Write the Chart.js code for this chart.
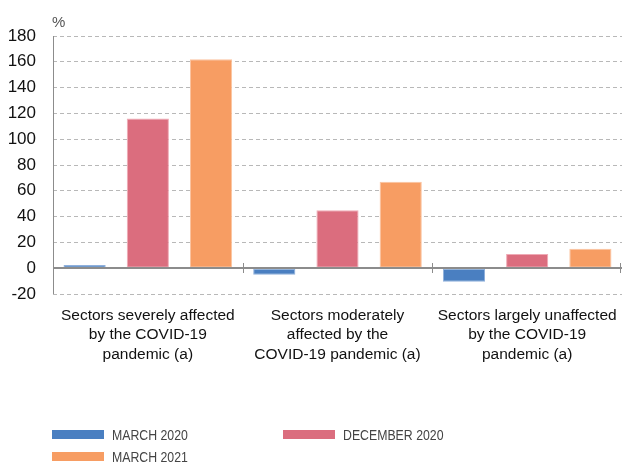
<!DOCTYPE html>
<html>
<head>
<meta charset="utf-8">
<script src="https://cdn.jsdelivr.net/npm/chart.js@4"></script>
<style>
  html, body { margin: 0; padding: 0; background: #fff; }
  #wrap { position: relative; width: 622px; height: 462px; overflow: hidden; }
  #legend { position: absolute; left: 52px; top: 425px; width: 570px;
    display: grid; grid-template-columns: 231px 231px; row-gap: 4px;
    font-family: "Liberation Sans", Arial, sans-serif;
    font-size: 15px; color: #444; }
  .item { display: flex; align-items: center; height: 18px; white-space: nowrap; }
  .sw { width: 52px; height: 9px; margin-right: 8px; flex: none; }
  .tx { display: inline-block; transform: scaleX(0.82); transform-origin: left center; }
</style>
</head>
<body>
<div id="wrap">
  <canvas id="c" width="622" height="462"></canvas>
  <div id="legend"></div>
</div>
<script>
const categories = [
  ["Sectors severely affected", "by the COVID-19", "pandemic (a)"],
  ["Sectors moderately", "affected by the", "COVID-19 pandemic (a)"],
  ["Sectors largely unaffected", "by the COVID-19", "pandemic (a)"]
];
const seriesNames = ["MARCH 2020", "DECEMBER 2020", "MARCH 2021"];
const march2020 = [2.5, -5, -10.5];
const december2020 = [116, 45, 11];
const march2021 = [162, 67, 15];
const yTicks = { min: -20, max: 180, step: 20 };
const unitLabel = "%";

const fills = ["#4a7fc1", "#db6d7e", "#f79d63"];
const edges = ["#8fb0dc", "#efaab5", "#fbc39f"];

const FONT = "'Liberation Sans', Arial, Helvetica, sans-serif";

// axis line, solid zero line with boundary marks, and the unit label
const axisDecor = {
  id: "axisDecor",
  afterDatasetsDraw(chart) {
    const ctx = chart.ctx;
    const xs = chart.scales.x, ys = chart.scales.y;
    const y0 = Math.round(ys.getPixelForValue(0));
    const n = chart.data.labels.length;
    const bounds = [xs.left];
    for (let i = 1; i < n; i++) {
      bounds.push((xs.getPixelForValue(i - 1) + xs.getPixelForValue(i)) / 2);
    }
    bounds.push(xs.right - 2);
    ctx.save();
    ctx.strokeStyle = "#8c8c8c";
    // y axis line
    ctx.lineWidth = 1;
    ctx.beginPath();
    ctx.moveTo(Math.round(xs.left) + 0.5, ys.top);
    ctx.lineTo(Math.round(xs.left) + 0.5, ys.bottom);
    ctx.stroke();
    // zero line
    ctx.lineWidth = 2;
    ctx.beginPath();
    ctx.moveTo(xs.left, y0);
    ctx.lineTo(xs.right, y0);
    ctx.stroke();
    // boundary marks
    ctx.lineWidth = 1;
    bounds.forEach(b => {
      ctx.beginPath();
      ctx.moveTo(Math.round(b) + 0.5, y0 - 5);
      ctx.lineTo(Math.round(b) + 0.5, y0 + 5);
      ctx.stroke();
    });
    ctx.fillStyle = "#555";
    ctx.font = "15px " + FONT;
    ctx.textBaseline = "middle";
    ctx.textAlign = "left";
    ctx.fillText(unitLabel, xs.left - 1, chart.chartArea.top - 13);
    ctx.restore();
  }
};

const seriesValues = [march2020, december2020, march2021];
const chart = new Chart(document.getElementById("c"), {
  type: "bar",
  data: {
    labels: categories,
    datasets: seriesValues.map((vals, i) => ({
      label: seriesNames[i],
      data: vals,
      backgroundColor: fills[i],
      borderColor: edges[i],
      borderWidth: 1,
      borderSkipped: false,
      barPercentage: 0.667,
      categoryPercentage: 1.0
    }))
  },
  options: {
    responsive: false,
    animation: false,
    layout: { padding: { top: 36, right: 0, left: 0, bottom: 0 } },
    plugins: { legend: { display: false }, tooltip: { enabled: false } },
    scales: {
      x: {
        grid: { display: false, drawTicks: false },
        border: { display: false },
        ticks: {
          color: "#111", font: { family: FONT, size: 15.5, lineHeight: 1.25 }, padding: 12,
          maxRotation: 0, minRotation: 0, autoSkip: false
        },
        afterFit(s) { s.height = 168; s.paddingLeft = 0; s.paddingRight = 0; }
      },
      y: {
        min: yTicks.min, max: yTicks.max,
        ticks: {
          stepSize: yTicks.step, color: "#111",
          font: { family: FONT, size: 17 }, padding: 17
        },
        grid: { drawTicks: false, color: "#b8b8b8", lineWidth: 1 },
        border: { display: false, dash: [4, 3] },
        afterFit(s) { s.width = 53; }
      }
    }
  },
  plugins: [axisDecor]
});

// two-column legend built from the chart's datasets
const legend = document.getElementById("legend");
chart.data.datasets.forEach(ds => {
  const item = document.createElement("div");
  item.className = "item";
  const sw = document.createElement("span");
  sw.className = "sw";
  sw.style.background = ds.backgroundColor;
  const tx = document.createElement("span");
  tx.className = "tx";
  tx.textContent = ds.label;
  item.appendChild(sw);
  item.appendChild(tx);
  legend.appendChild(item);
});
</script>
</body>
</html>
